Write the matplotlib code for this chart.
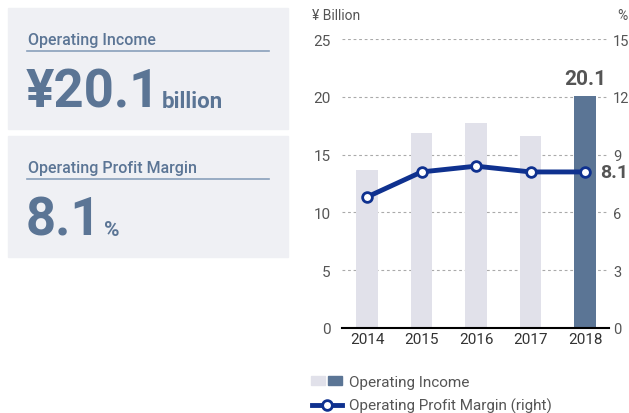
import matplotlib.pyplot as plt
from matplotlib.patches import Rectangle
from matplotlib.lines import Line2D

years = ["2014", "2015", "2016", "2017", "2018"]
income = [13.7, 16.9, 17.7, 16.6, 20.1]
margin = [6.8, 8.1, 8.4, 8.1, 8.1]
left_ticks = [0, 5, 10, 15, 20, 25]
right_ticks = [0, 3, 6, 9, 12, 15]

BLUE_GRAY = "#5b7595"
LIGHT_BAR = "#e1e1ea"
LINE_BLUE = "#0f318f"
BOX_BG = "#eff0f4"
TXT = "#555555"

plt.rcParams['font.family'] = ['Roboto', 'DejaVu Sans']

fig = plt.figure(figsize=(6.29, 4.14), dpi=100)
W, H = 629, 414


def px(x, y):
    return x / W, 1 - y / H


# left summary boxes
for top, bot in [(9, 130), (137, 258)]:
    fig.patches.append(Rectangle(px(8, bot), 280 / W, (bot - top) / H,
                                 transform=fig.transFigure, color=BOX_BG, zorder=0))

for ly in [52, 180]:
    fig.lines.append(Line2D([27 / W, 269 / W], [1 - ly / H] * 2, transform=fig.transFigure,
                            color="#8aa0bb", lw=1.2))

fig.text(*px(28, 45), "Operating Income", color=BLUE_GRAY, fontsize=11.5,
         fontweight="medium", va="baseline")
fig.text(*px(28, 173), "Operating Profit Margin", color=BLUE_GRAY, fontsize=11.5,
         fontweight="medium", va="baseline")
fig.text(*px(26, 108), "¥20.1", color=BLUE_GRAY, fontsize=38, fontweight="bold", va="baseline")
fig.text(*px(162, 108), "billion", color=BLUE_GRAY, fontsize=16, fontweight="bold", va="baseline")
fig.text(*px(26, 236), "8.1", color=BLUE_GRAY, fontsize=38, fontweight="bold", va="baseline")
fig.text(*px(104, 236), "%", color=BLUE_GRAY, fontsize=15, fontweight="bold", va="baseline")

# chart
ax = fig.add_axes([342 / W, 85 / H, 267 / W, 289 / H])
x = list(range(len(years)))
colors = [LIGHT_BAR] * (len(years) - 1) + [BLUE_GRAY]
ax.bar(x, income, width=0.4, color=colors, zorder=2)
ax.set_xlim(-0.46, 4.44)
ax.set_ylim(0, 25)
ax.set_yticks(left_ticks)
ax.set_xticks(x)
ax.set_xticklabels(years)
ax.grid(axis="y", color="#aaaaaa", ls=(0, (2.5, 2.5)), lw=0.8, zorder=0)
for s in ["top", "right", "left"]:
    ax.spines[s].set_visible(False)
ax.spines["bottom"].set_color("black")
ax.spines["bottom"].set_linewidth(1.5)
ax.spines["bottom"].set_zorder(5)
ax.tick_params(axis="x", length=0, labelsize=11, labelcolor="#333333", pad=3)
ax.tick_params(axis="y", length=0, labelsize=11, labelcolor=TXT, pad=8)

ax2 = ax.twinx()
ax2.set_ylim(0, 15)
ax2.set_yticks(right_ticks)
for s in ["top", "right", "left", "bottom"]:
    ax2.spines[s].set_visible(False)
ax2.tick_params(axis="y", length=0, labelsize=10.5, labelcolor=TXT, pad=3)
ax2.plot(x, margin, color=LINE_BLUE, lw=3.5, marker="o", ms=7, mfc="white",
         mec=LINE_BLUE, mew=2, zorder=4, clip_on=False)

ax.text(x[-1], income[-1] + 0.7, "20.1", ha="center", va="bottom", fontsize=15,
        fontweight="bold", color=TXT)
ax2.text(x[-1] + 0.28, margin[-1], "8.1", ha="left", va="center", fontsize=14,
         fontweight="bold", color=TXT)

fig.text(*px(312, 20), "¥ Billion", fontsize=10, color=TXT, va="baseline")
fig.text(*px(628, 20), "%", fontsize=10, color=TXT, va="baseline", ha="right")

# legend
fig.patches.append(Rectangle(px(311, 386), 14 / W, 9 / H, transform=fig.transFigure,
                             color=LIGHT_BAR))
fig.patches.append(Rectangle(px(328, 386), 14 / W, 9 / H, transform=fig.transFigure,
                             color=BLUE_GRAY))
fig.text(*px(349, 387), "Operating Income", fontsize=11, color=TXT, va="baseline")
fig.lines.append(Line2D([312 / W, 342 / W], [1 - 406 / H] * 2, transform=fig.transFigure,
                        color=LINE_BLUE, lw=3.5))
fig.lines.append(Line2D([327 / W], [1 - 406 / H], transform=fig.transFigure,
                        color=LINE_BLUE, marker="o", ms=7, mfc="white", mew=2))
fig.text(*px(349, 411), "Operating Profit Margin (right)", fontsize=11, color=TXT,
         va="baseline")

fig.savefig("out.png", dpi=100)
